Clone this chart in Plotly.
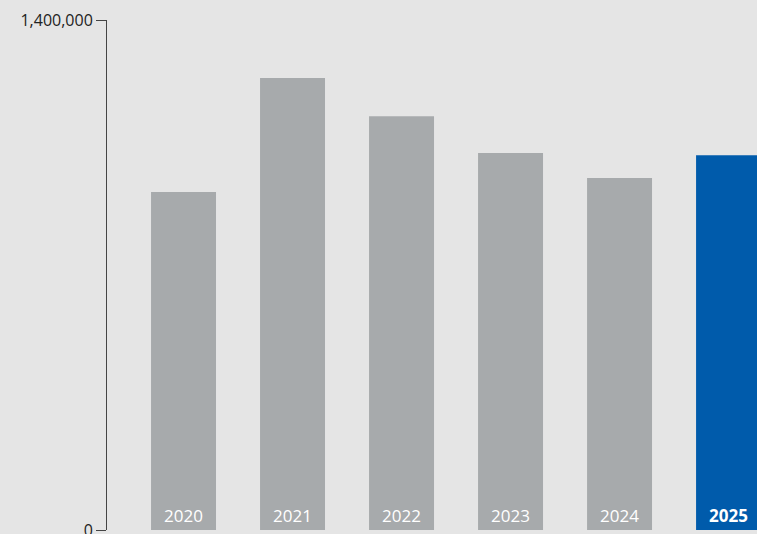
import plotly.graph_objects as go

years = ["2020", "2021", "2022", "2023", "2024", "2025"]
values = [928000, 1241000, 1136000, 1035000, 966000, 1029000]
colors = ["#a7aaac", "#a7aaac", "#a7aaac", "#a7aaac", "#a7aaac", "#005bab"]
tick_vals = [0, 1400000]
tick_text = ["0", "1,400,000"]

fig = go.Figure()
fig.add_trace(go.Bar(
    x=years, y=values, marker=dict(color=colors, line=dict(width=0)),
    width=0.596,
    text=[f"<b>{y}</b>" if i == len(years) - 1 else y for i, y in enumerate(years)],
    textposition="inside", insidetextanchor="start",
    textfont=dict(color="white", size=17, family="Open Sans"),
    textangle=0, cliponaxis=False, hoverinfo="skip",
))

fig.update_layout(
    width=757, height=534,
    margin=dict(l=107, r=0, t=20, b=4, autoexpand=False),
    paper_bgcolor="#e5e5e5", plot_bgcolor="#e5e5e5",
    showlegend=False,
    uniformtext=dict(minsize=17, mode="show"),
    font=dict(family="Open Sans", color="#222222", size=16),
)
fig.update_xaxes(range=[-0.702, 5.261], showticklabels=False, showgrid=False,
                 zeroline=False, showline=False, ticks="", automargin=False)
fig.update_yaxes(range=[0, 1400000], tickvals=tick_vals, ticktext=tick_text,
                 showgrid=False, zeroline=False, showline=True, linecolor="#444444",
                 linewidth=1, ticks="outside", ticklen=10, tickcolor="#444444",
                 tickwidth=1, ticklabeloverflow="allow", automargin=False,
                 tickfont=dict(size=16, family="Open Sans", color="#222222"))

fig.write_html(
    "out.html",
    config={"displayModeBar": False},
    post_script="document.body.style.margin='0';document.body.style.overflow='hidden';document.body.style.background='#e5e5e5';",
)
